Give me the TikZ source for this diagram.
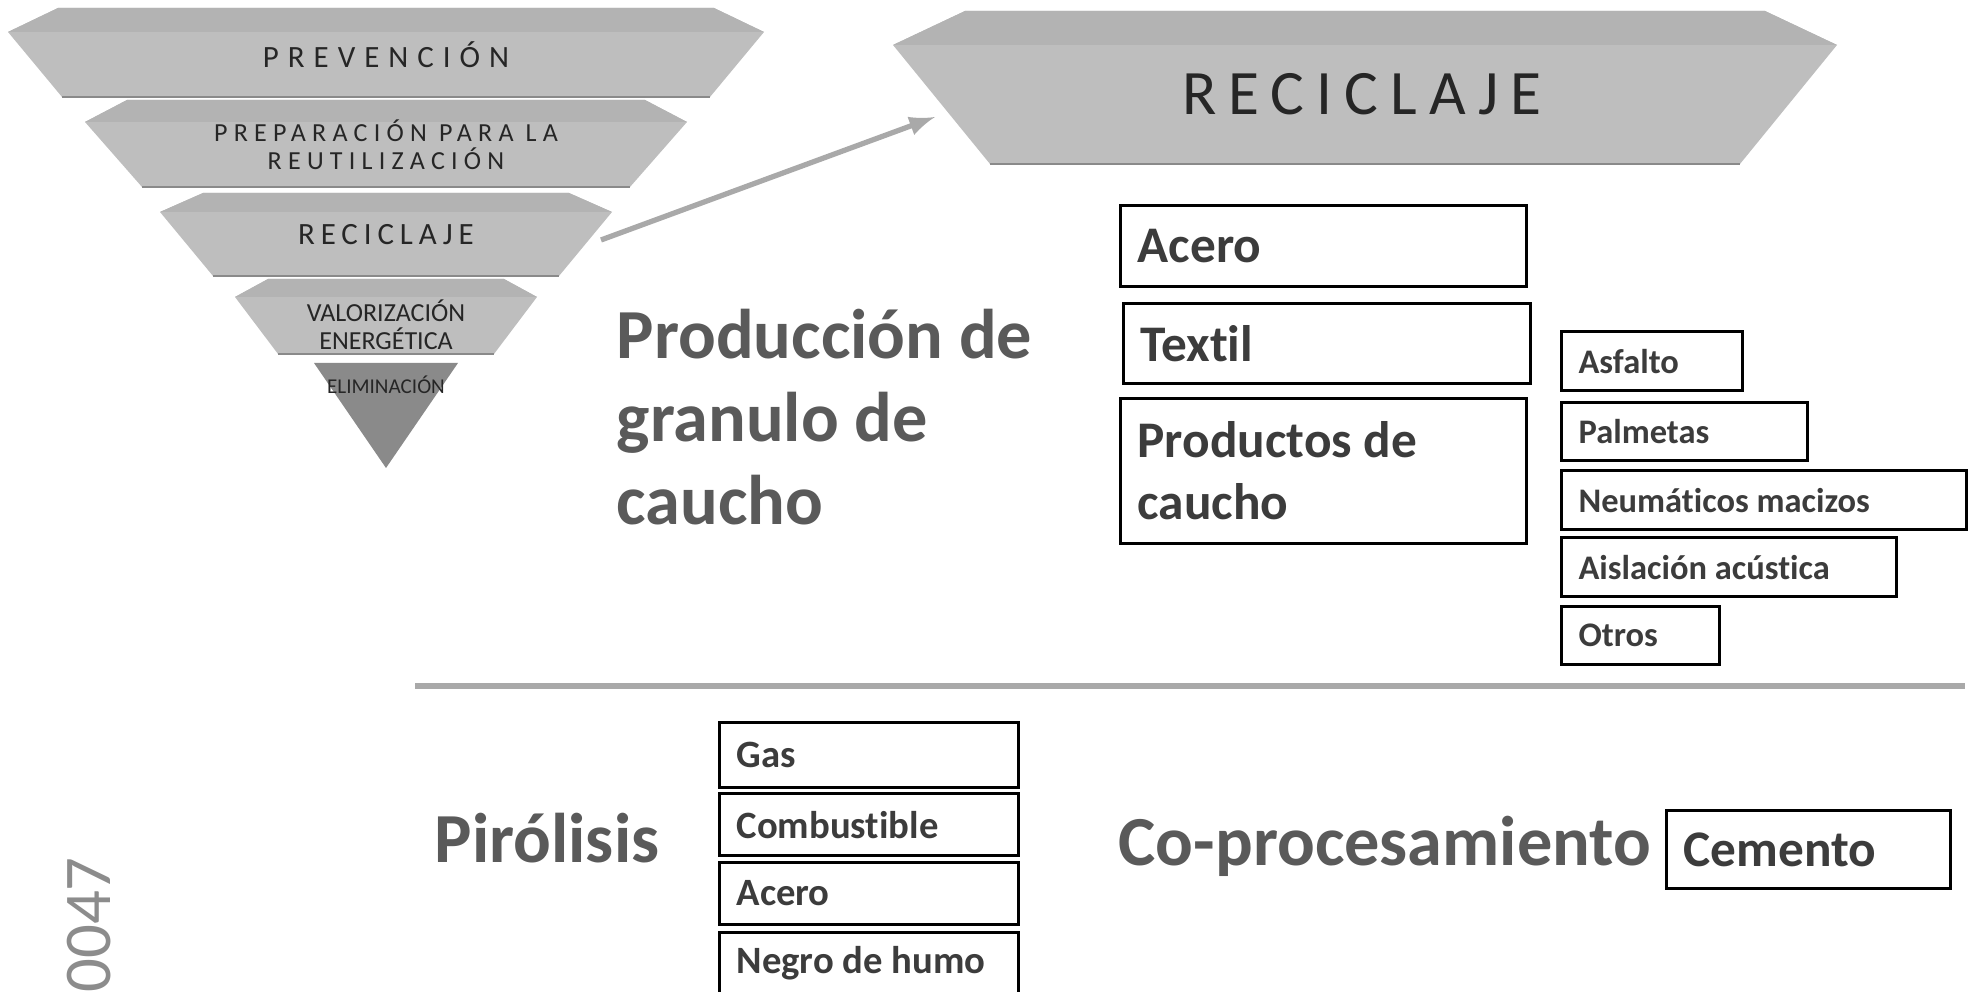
\documentclass[tikz,border=0pt]{standalone}
\usepackage{fontspec}
\setmainfont{Carlito}[Ligatures=NoCommon]
\usetikzlibrary{calc}
\definecolor{bandface}{HTML}{BEBEBE}
\definecolor{bandtop}{HTML}{B3B3B3}
\definecolor{bandlow}{HTML}{8A8A8A}
\definecolor{bigtext}{HTML}{5A5A5A}
\definecolor{boxtext}{HTML}{3C3C3C}
\definecolor{rulegray}{HTML}{A9A9A9}
% slab: centre x, y top, y tip, y bottom, half widths top, tip, bottom
\newcommand\pyrslab[7]{%
  \fill[bandface] ({#1-#5},#2) -- ({#1+#5},#2) -- ({#1+#6},#3) -- ({#1+#7},#4) -- ({#1-#7},#4) -- ({#1-#6},#3) -- cycle;
  \fill[bandtop] ({#1-#5},#2) -- ({#1+#5},#2) -- ({#1+#6},#3) -- ({#1-#6},#3) -- cycle;
  \draw[bandlow, line width=0.5pt] ({#1-#7},#4) -- ({#1+#7},#4);}

\begin{document}
\begin{tikzpicture}[x=0.01cm, y=-0.01cm, >=latex,
    every node/.style={execute at begin node={\spaceskip=0pt\xspaceskip=0pt}},
    lvl/.style={text=black!85, align=center, inner sep=0pt},
    big/.style={text=bigtext, font=\fontsize{20}{23.6}\selectfont\bfseries, align=left, inner sep=0pt},
    item/.style={draw, line width=0.9pt, anchor=north west, inner xsep=0.17cm, inner ysep=0pt, align=left, text=boxtext}]
  \useasboundingbox (0,0) rectangle (1972,992);

  \pyrslab{386}{8}{32}{97}{328}{378}{324}
  \pyrslab{386}{100}{122}{187}{259}{301}{244}
  \pyrslab{386}{193}{212}{276}{183}{226}{173}
  \pyrslab{386}{279}{297}{354}{118}{151}{108}
  \fill[bandlow] (314,363) -- (458,363) -- (386,468) -- cycle;
  \pyrslab{1365}{11}{45}{164}{400}{472}{375}

  \node[lvl, font=\fontsize{8.8}{10}\selectfont\addfontfeatures{LetterSpace=29}] (prev) at (386,55) {PREVENCIÓN};
  \node[lvl, font=\fontsize{7.4}{7.9}\selectfont\addfontfeatures{LetterSpace=24}] (prep) at (386,145) {PREPARACIÓN PARA LA\\REUTILIZACIÓN};
  \node[lvl, font=\fontsize{8.8}{10}\selectfont\addfontfeatures{LetterSpace=19}] (recsmall) at (386,235) {RECICLAJE};
  \node[lvl, font=\fontsize{7.4}{7.9}\selectfont] (valor) at (386,325) {VALORIZACIÓN\\ENERGÉTICA};
  \node[lvl, font=\fontsize{6}{6.5}\selectfont] (elim) at (386,385) {ELIMINACIÓN};
  \node[lvl, font=\fontsize{18}{20}\selectfont\addfontfeatures{LetterSpace=19}] (recbig) at (1362,94) {RECICLAJE};

  \coordinate (arrfrom) at (601,240);
  \coordinate (arrto) at (935,117);
  \draw[->, rulegray, line width=1.5pt] (arrfrom) -- (arrto);

  \node[big, anchor=north west] (granulo) at (616,308) {Producción de\\granulo de\\caucho};

  \node[item, font=\fontsize{14.6}{17.6}\selectfont\bfseries, text width=3.72cm, minimum height=0.81cm] (acero) at (1119,204) {Acero};
  \node[item, font=\fontsize{14.6}{17.6}\selectfont\bfseries, text width=3.73cm, minimum height=0.80cm] (textil) at (1122,302) {Textil};
  \node[item, font=\fontsize{14.6}{17.6}\selectfont\bfseries, text width=3.72cm, minimum height=1.45cm] (productos) at (1119,397) {Productos de\\caucho};

  \node[item, font=\fontsize{9.8}{11}\selectfont\bfseries, text width=1.47cm, minimum height=0.59cm] (asfalto) at (1560,330) {Asfalto};
  \node[item, font=\fontsize{9.8}{11}\selectfont\bfseries, text width=2.12cm, minimum height=0.58cm] (palmetas) at (1560,401) {Palmetas};
  \node[item, font=\fontsize{9.8}{11}\selectfont\bfseries, text width=3.71cm, minimum height=0.59cm] (neumaticos) at (1560,469) {Neumáticos macizos};
  \node[item, font=\fontsize{9.8}{11}\selectfont\bfseries, text width=3.01cm, minimum height=0.59cm] (aislacion) at (1560,536) {Aislación acústica};
  \node[item, font=\fontsize{9.8}{11}\selectfont\bfseries, text width=1.24cm, minimum height=0.58cm] (otros) at (1560,605) {Otros};

  \draw[rulegray, line width=1.8pt] (415,686) -- (1965,686);

  \node[big, anchor=west] (pirolisis) at (434,838) {Pirólisis};
  \node[item, font=\fontsize{11}{12}\selectfont\bfseries, text width=2.65cm, minimum height=0.65cm] (gas) at (718,721) {Gas};
  \node[item, font=\fontsize{11}{12}\selectfont\bfseries, text width=2.65cm, minimum height=0.62cm] (combustible) at (718,792) {Combustible};
  \node[item, font=\fontsize{11}{12}\selectfont\bfseries, text width=2.65cm, minimum height=0.62cm] (acerop) at (718,861) {Acero};
  \node[item, font=\fontsize{11}{12}\selectfont\bfseries, text width=2.65cm, minimum height=0.62cm] (negro) at (718,931) {Negro de humo};

  \node[big, anchor=west] (coproc) at (1118,846) {Co-procesamiento};
  \node[item, font=\fontsize{14.6}{17.6}\selectfont\bfseries, text width=2.50cm, minimum height=0.78cm] (cemento) at (1665,809) {Cemento};

  \node[rotate=90, text=black!45, font=\fontsize{19}{20}\selectfont, inner sep=0pt] (folio) at (89,925) {0047};
\end{tikzpicture}
\end{document}
